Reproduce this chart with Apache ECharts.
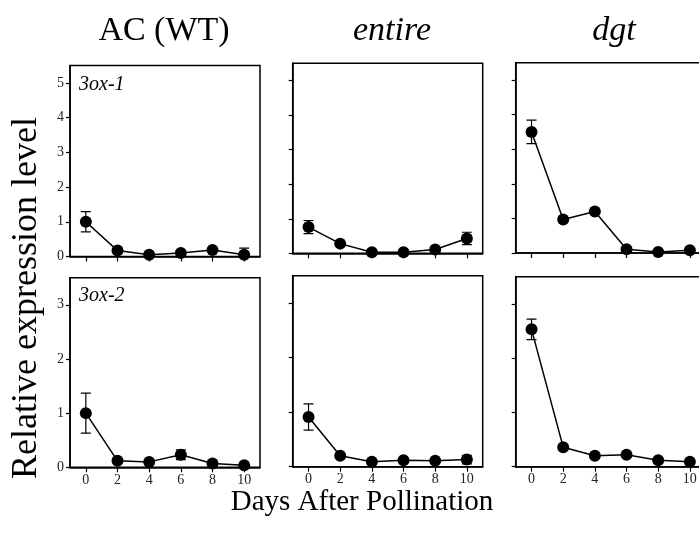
<!DOCTYPE html>
<html>
<head>
<meta charset="utf-8">
<script src="https://cdn.jsdelivr.net/npm/echarts@6/dist/echarts.min.js"></script>
<style>
html,body{margin:0;padding:0;background:#fff;overflow:hidden;}
#chart{width:720px;height:534px;}
</style>
</head>
<body>
<div id="chart"></div>
<script>
// ---- data ----
const days = [0, 2, 4, 6, 8, 10];
const xTicks = [0, 2, 4, 6, 8, 10];
const yTicksTop = [0, 1, 2, 3, 4, 5];
const yTicksBottom = [0, 1, 2, 3];
const columnTitles = ['AC (WT)', 'entire', 'dgt'];
const geneLabels = ['3ox-1', '3ox-2'];

const ac_3ox1 = [1.00, 0.17, 0.05, 0.10, 0.19, 0.05];
const ac_3ox1_err = [0.29, 0, 0, 0, 0, 0.19];
const entire_3ox1 = [0.76, 0.28, 0.03, 0.03, 0.11, 0.43];
const entire_3ox1_err = [0.19, 0, 0, 0, 0, 0.18];
const dgt_3ox1 = [3.50, 0.97, 1.20, 0.11, 0.03, 0.08];
const dgt_3ox1_err = [0.34, 0, 0, 0, 0, 0];

const ac_3ox2 = [1.00, 0.12, 0.10, 0.23, 0.07, 0.04];
const ac_3ox2_err = [0.37, 0, 0, 0.09, 0, 0];
const entire_3ox2 = [0.91, 0.20, 0.09, 0.12, 0.11, 0.13];
const entire_3ox2_err = [0.24, 0, 0, 0, 0, 0.08];
const dgt_3ox2 = [2.53, 0.36, 0.20, 0.22, 0.12, 0.09];
const dgt_3ox2_err = [0.19, 0, 0, 0, 0, 0];

const panels = [
  {vals: ac_3ox1, errs: ac_3ox1_err, ymax: 5.5, yt: yTicksTop, showY: true, showX: false},
  {vals: entire_3ox1, errs: entire_3ox1_err, ymax: 5.5, yt: yTicksTop, showY: false, showX: false},
  {vals: dgt_3ox1, errs: dgt_3ox1_err, ymax: 5.5, yt: yTicksTop, showY: false, showX: false},
  {vals: ac_3ox2, errs: ac_3ox2_err, ymax: 3.5, yt: yTicksBottom, showY: true, showX: true},
  {vals: entire_3ox2, errs: entire_3ox2_err, ymax: 3.5, yt: yTicksBottom, showY: false, showX: true},
  {vals: dgt_3ox2, errs: dgt_3ox2_err, ymax: 3.5, yt: yTicksBottom, showY: false, showX: true}
];

// ---- layout ----
const gridBoxes = [
  {left: 70, top: 65.5, width: 190, height: 191},
  {left: 292.7, top: 63.3, width: 190, height: 190},
  {left: 515.7, top: 62.7, width: 190, height: 190.3},
  {left: 70, top: 277.7, width: 190, height: 189.6},
  {left: 292.7, top: 275.7, width: 190, height: 191},
  {left: 515.7, top: 276.7, width: 190, height: 190}
];

const SERIF = '"Liberation Serif", "DejaVu Serif", serif';
const chart = echarts.init(document.getElementById('chart'), null, {renderer: 'canvas'});

const grid = [], xAxis = [], yAxis = [], series = [];
panels.forEach((p, i) => {
  grid.push(Object.assign({show: true, borderColor: '#000', borderWidth: 1.5, backgroundColor: '#fff'}, gridBoxes[i]));
  xAxis.push({
    type: 'value', gridIndex: i, min: -1, max: 11,
    axisLine: {show: true, onZero: false, lineStyle: {color: '#000', width: 1.5}},
    axisTick: {show: true, length: 5, lineStyle: {color: '#000', width: 1.2}, customValues: xTicks},
    axisLabel: {show: p.showX, customValues: xTicks, color: '#222', fontFamily: SERIF, fontSize: 14, margin: 6},
    splitLine: {show: false}
  });
  yAxis.push({
    type: 'value', gridIndex: i, min: 0, max: p.ymax,
    axisLine: {show: true, onZero: false, lineStyle: {color: '#000', width: 1.5}},
    axisTick: {show: true, length: 4, lineStyle: {color: '#000', width: 1.2}, customValues: p.yt},
    axisLabel: {show: p.showY, customValues: p.yt, color: '#222', fontFamily: SERIF, fontSize: 14, margin: 6},
    splitLine: {show: false}
  });
  series.push({
    type: 'custom', xAxisIndex: i, yAxisIndex: i, clip: true, z: 2,
    data: days.map((d, k) => [d, p.vals[k], p.errs[k]]),
    renderItem: function (params, api) {
      const x = api.value(0), y = api.value(1), e = api.value(2);
      if (!e) return null;
      const hi = api.coord([x, y + e]);
      const lo = api.coord([x, Math.max(y - e, -0.5)]);
      const w = 5;
      const st = {stroke: '#000', lineWidth: 1.2};
      return {type: 'group', children: [
        {type: 'line', shape: {x1: hi[0], y1: hi[1], x2: lo[0], y2: lo[1]}, style: st},
        {type: 'line', shape: {x1: hi[0] - w, y1: hi[1], x2: hi[0] + w, y2: hi[1]}, style: st},
        {type: 'line', shape: {x1: lo[0] - w, y1: lo[1], x2: lo[0] + w, y2: lo[1]}, style: st}
      ]};
    }
  });
  series.push({
    type: 'line', xAxisIndex: i, yAxisIndex: i, z: 3,
    data: days.map((d, k) => [d, p.vals[k]]),
    symbol: 'circle', symbolSize: 12, showSymbol: true,
    itemStyle: {color: '#000'},
    lineStyle: {color: '#000', width: 1.5},
    animation: false
  });
});

const graphic = [];
const colCenters = [164, 392, 614];
columnTitles.forEach((t, i) => {
  graphic.push({type: 'text', x: colCenters[i], y: 31, style: {
    text: t, fill: '#000', font: (i === 0 ? '' : 'italic ') + '34px ' + SERIF,
    textAlign: 'center', textVerticalAlign: 'middle'}});
});
geneLabels.forEach((t, i) => {
  graphic.push({type: 'text', x: 79, y: i === 0 ? 85 : 296, style: {
    text: t, fill: '#000', font: 'italic 20px ' + SERIF,
    textAlign: 'left', textVerticalAlign: 'middle'}});
});
graphic.push({type: 'text', x: 27, y: 298, rotation: Math.PI / 2, style: {
  text: 'Relative expression level', fill: '#000', font: '36px ' + SERIF,
  textAlign: 'center', textVerticalAlign: 'middle'}});
graphic.push({type: 'text', x: 362, y: 502, style: {
  text: 'Days After Pollination', fill: '#000', font: '29px ' + SERIF,
  textAlign: 'center', textVerticalAlign: 'middle'}});

chart.setOption({
  animation: false,
  backgroundColor: '#fff',
  grid, xAxis, yAxis, series, graphic
});
</script>
</body>
</html>
